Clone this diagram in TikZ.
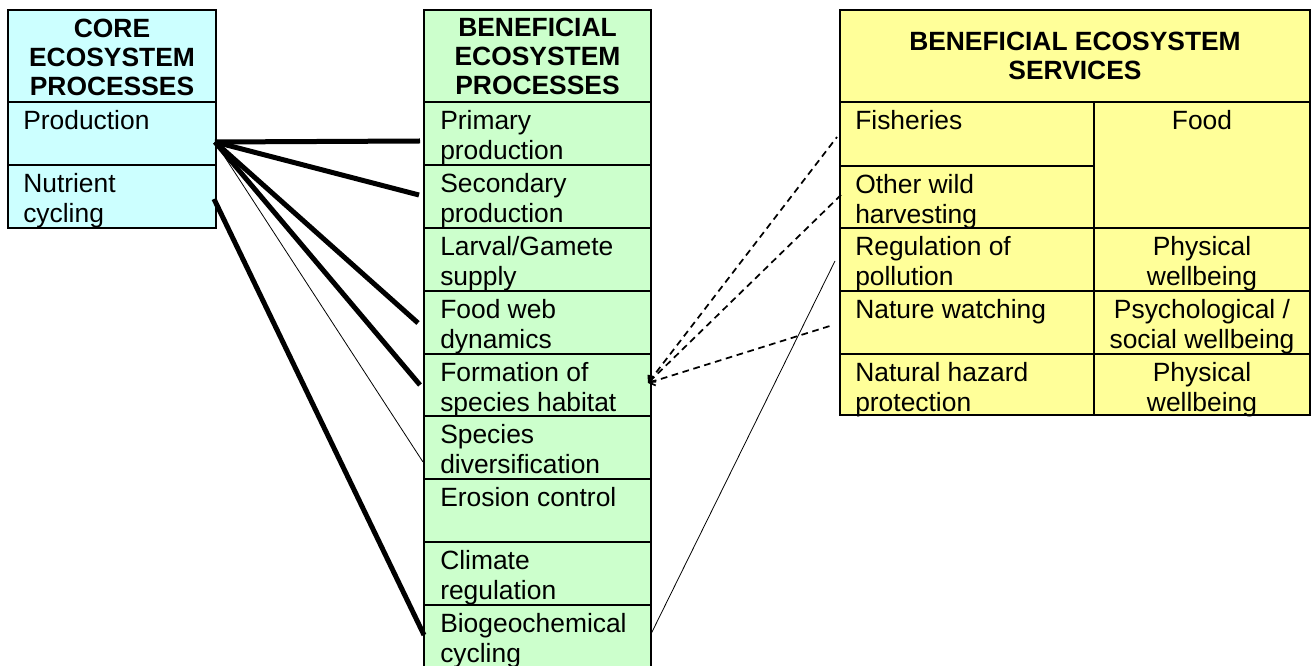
\documentclass[tikz,border=0pt]{standalone}
\usepackage{fontspec}
\setmainfont{Liberation Sans}
\usetikzlibrary{arrows.meta}
\definecolor{cyanbox}{HTML}{CCFFFF}
\definecolor{greenbox}{HTML}{CCFFCC}
\definecolor{yellowbox}{HTML}{FFFF99}
\begin{document}
\begin{tikzpicture}[x=0.75pt,y=-0.75pt,
  border/.style={line width=1.9pt},
  body/.style={font=\fontsize{19.8pt}{22.9pt}\selectfont, inner sep=0pt, align=left, anchor=north west},
  ctr/.style={body, align=center, anchor=north},
  head/.style={font=\bfseries\fontsize{19.8pt}{21.75pt}\selectfont, inner sep=0pt, align=center},
  heavy/.style={line width=3.75pt},
  light/.style={line width=0.6pt},
  dashline/.style={line width=1.3pt, dash pattern=on 5pt off 3.5pt},
  barb/.style={{Straight Barb[length=4pt,width=7pt]}-}]
\useasboundingbox (0,0) rectangle (1311,666);
\clip (0,0) rectangle (1311,666);
% left column
\filldraw[fill=cyanbox, border] (8,10) rectangle (216,228);
\draw[border] (8,102) -- (216,102) (8,165) -- (216,165);
% middle column
\filldraw[fill=greenbox, border] (424,10) rectangle (651,690);
\draw[border] \foreach \y in {102,165,228,291,354,416,479,542,605} {(424,\y) -- (651,\y)};
% right table
\filldraw[fill=yellowbox, border] (840,10) rectangle (1310,415);
\draw[border] (840,102) -- (1310,102) (1094,102) -- (1094,415)
  (840,166) -- (1094,166) (840,228) -- (1310,228)
  (840,291) -- (1310,291) (840,354) -- (1310,354);
% texts
\node[head] (coreh) at (112,57) {CORE\\ECOSYSTEM\\PROCESSES};
\node[body] (prod) at (23,110) {Production};
\node[body] (nutr) at (23,173) {Nutrient\\cycling};
\node[head] (benh) at (537.5,56) {BENEFICIAL\\ECOSYSTEM\\PROCESSES};
\node[body] (prim) at (440,110) {Primary\\production};
\node[body] (sec) at (440,173) {Secondary\\production};
\node[body] (larv) at (440,236) {Larval/Gamete\\supply};
\node[body] (foodweb) at (440,299) {Food web\\dynamics};
\node[body] (form) at (440,362) {Formation of\\species habitat};
\node[body] (spec) at (440,424) {Species\\diversification};
\node[body] (eros) at (440,487) {Erosion control};
\node[body] (clim) at (440,550) {Climate\\regulation};
\node[body] (biog) at (440,613) {Biogeochemical\\cycling};
\node[head] (servh) at (1075,56) {BENEFICIAL ECOSYSTEM\\SERVICES};
\node[body] (fish) at (855,110) {Fisheries};
\node[body] (other) at (855,174) {Other wild\\harvesting};
\node[body] (regu) at (855,236) {Regulation of\\pollution};
\node[body] (natw) at (855,299) {Nature watching};
\node[body] (haz) at (855,362) {Natural hazard\\protection};
\node[ctr] (foodc) at (1202,110) {Food};
\node[ctr] (phys1) at (1202,236) {Physical\\wellbeing};
\node[ctr] (psy) at (1202,299) {Psychological /\\social wellbeing};
\node[ctr] (phys2) at (1202,362) {Physical\\wellbeing};
% connector endpoints
\coordinate (pA) at (215,142);
\coordinate (nA) at (214,199);
\coordinate (e1) at (420,141);
\coordinate (e2) at (419,195);
\coordinate (e3) at (418,323);
\coordinate (e4) at (420,385);
\coordinate (e5) at (423,462);
\coordinate (e6) at (424,635);
\coordinate (hab) at (648,383);
\coordinate (s1) at (837,137);
\coordinate (s2) at (842,194);
\coordinate (s3) at (833,325);
\coordinate (bio) at (651,634);
\coordinate (pol) at (835,261);
% connectors
\draw[heavy] (pA) -- (e1);
\draw[heavy] (pA) -- (e2);
\draw[heavy] (pA) -- (e3);
\draw[heavy] (pA) -- (e4);
\draw[light] (pA) -- (e5);
\draw[heavy] (nA) -- (e6);
\draw[dashline, barb] (hab) -- (s1);
\draw[dashline, barb] (hab) -- (s2);
\draw[dashline, barb] (hab) -- (s3);
\draw[light] (bio) -- (pol);
\end{tikzpicture}
\end{document}
